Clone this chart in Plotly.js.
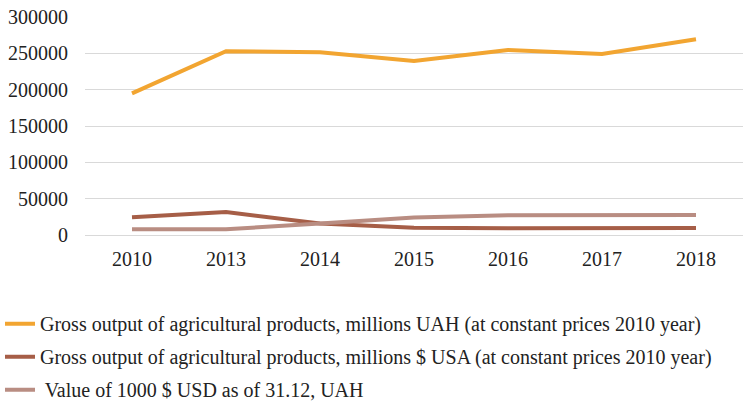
<!DOCTYPE html>
<html>
<head>
<meta charset="utf-8">
<script src="https://cdn.plot.ly/plotly-3.0.1.min.js"></script>
<style>html,body{margin:0;padding:0;background:#fff;}#chart{width:743px;height:411px;}</style>
</head>
<body>
<div id="chart"></div>
<script>
const years = ["2010", "2013", "2014", "2015", "2016", "2017", "2018"];
const grossUAH = [194900, 252900, 251400, 239500, 254600, 249000, 269300];
const grossUSD = [24500, 31600, 15900, 10000, 9400, 8900, 9700];
const usdValue = [7960, 7990, 15770, 24000, 27190, 28070, 27690];
const seriesNames = [
  "Gross output of agricultural products, millions UAH (at constant prices 2010 year)",
  "Gross output of agricultural products, millions $ USA (at constant prices 2010 year)",
  " Value of 1000 $ USD as of 31.12, UAH"
];
const yTicks = [0, 50000, 100000, 150000, 200000, 250000, 300000];

const colors = ["#F2A531", "#A65E47", "#B98D82"];
const data = [grossUAH, grossUSD, usdValue].map((v, i) => ({
  type: "scatter", mode: "lines", x: years, y: v, name: seriesNames[i],
  legendgroup: "g" + i,
  line: {color: colors[i], width: 4}
}));

const fontFam = "'Liberation Serif', 'Times New Roman', serif";
const layout = {
  width: 743, height: 411,
  margin: {l: 85, r: 0, t: 17, b: 176, autoexpand: false},
  paper_bgcolor: "#fff", plot_bgcolor: "#fff",
  font: {family: fontFam, size: 20, color: "#222"},
  showlegend: true,
  legend: {
    x: 0.0, xref: "container", xanchor: "left",
    y: 0.26, yref: "container", yanchor: "top",
    orientation: "v", tracegroupgap: 4, itemwidth: 30,
    font: {family: fontFam, size: 20, color: "#222"}
  },
  xaxis: {
    type: "category", range: [-0.5, years.length - 0.5],
    showgrid: false, zeroline: false, showline: false,
    ticks: "", ticklabelstandoff: 10, tickangle: 0, fixedrange: true
  },
  yaxis: {
    range: [0, 300000], tickvals: yTicks, ticktext: yTicks.map(String),
    showgrid: true, gridcolor: "#D9D9D9", gridwidth: 1,
    zeroline: true, zerolinecolor: "#D9D9D9", zerolinewidth: 1,
    showline: false, ticks: "", ticklabelstandoff: 16, fixedrange: true
  }
};
Plotly.newPlot("chart", data, layout, {displayModeBar: false, staticPlot: true});
</script>
</body>
</html>
